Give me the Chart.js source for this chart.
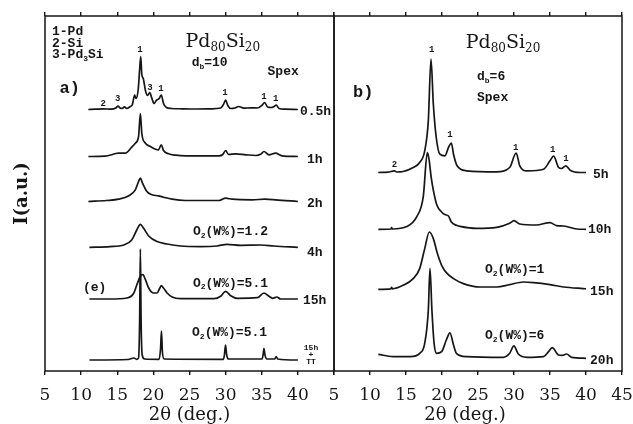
<!DOCTYPE html>
<html>
<head>
<meta charset="utf-8">
<script src="https://cdn.jsdelivr.net/npm/chart.js@4.4.0/dist/chart.umd.min.js"></script>
<style>
  html, body { margin: 0; padding: 0; background: #fff; }
  #wrap { position: relative; width: 633px; height: 424px; overflow: hidden; }
  canvas { position: absolute; top: 0; }
  #chartA { left: 0; }
  #chartB { left: 300px; }
</style>
</head>
<body>
<div id="wrap">
  <canvas id="chartA" width="340" height="424"></canvas>
  <canvas id="chartB" width="334" height="424"></canvas>
</div>
<script>
// 2theta (deg.) / intensity above the curve's own baseline
// panel a) Pd80Si20, db=10
const a05h = [[11.0,0],[12.0,0.3],[13.1,0.7],[14.2,0.3],[14.8,1.5],[15.1,3.3],[15.4,1.5],[15.7,1],[16.0,2.7],[16.3,1],[16.8,3],[17.1,5],[17.4,14.5],[17.6,11],[17.9,20],[18.1,40],[18.25,53],[18.4,35],[18.6,31],[18.9,19],[19.2,14],[19.5,17],[19.8,11],[20.1,6],[20.4,9],[20.8,11],[21.1,14.5],[21.4,6],[21.8,2],[22.5,1],[24.0,0.7],[26.0,0.5],[28.0,0.7],[29.3,1.5],[29.7,5],[30.0,9.3],[30.3,4],[30.7,1],[31.3,1.5],[31.8,3],[32.5,1.3],[33.5,1.7],[34.4,1.5],[35.0,4],[35.4,7],[35.8,2.5],[36.3,2],[36.7,3],[37.0,4.3],[37.4,1],[38.2,0.3],[40.0,0]];
const a1h = [[11.0,0],[13.3,0.3],[15.2,3.3],[16.1,3.3],[17.0,9.3],[17.5,13.3],[17.95,20],[18.2,43],[18.4,23],[18.9,13.3],[19.6,10],[20.3,7.3],[20.7,6.7],[21.1,11.7],[21.4,6],[22.1,2.7],[23.1,1.3],[24.5,0.7],[29.1,0.7],[29.6,2],[30.0,6],[30.4,2],[31.4,2.7],[32.8,1.7],[34.2,1],[34.9,2.5],[35.3,5],[36.0,1.7],[36.9,3.3],[37.8,0.7],[40.0,0]];
const a2h = [[11.0,0],[13.5,1],[15.2,2.3],[16.6,5.7],[17.5,11.7],[17.95,20],[18.2,23.3],[18.5,18.3],[19.1,10],[19.8,6.7],[20.7,5.7],[21.4,4.3],[22.6,2.3],[24.4,1],[29.1,1],[30.0,3.3],[30.9,2.3],[33.7,1.7],[35.4,2.3],[36.9,1.7],[40.0,0]];
const a4h = [[11.15,0],[14.0,0.7],[15.9,2.3],[17.0,7.3],[17.7,17.3],[18.2,23],[18.65,19],[19.35,11.3],[20.5,5.7],[21.9,3.3],[23.75,1.3],[26.5,0.7],[28.8,1.3],[30.2,3],[32.1,2],[34.9,2.3],[36.7,1.3],[40.0,0]];
const a15h = [[11.15,0],[14.0,0],[16.35,1],[17.3,6],[17.7,14],[18.2,22.7],[18.55,24.3],[18.9,19.3],[19.35,11],[20.0,6],[20.5,6],[20.9,11],[21.1,13.3],[21.4,11],[21.9,6],[22.6,2],[23.75,0.3],[28.4,0.3],[29.3,2.7],[30.0,7.7],[30.7,3.3],[31.6,0.7],[34.4,1.3],[35.3,6],[36.0,2.7],[36.5,0.7],[37.1,2],[37.6,0],[40.0,0]];
const a15hTT = [[11.15,0],[16.5,0.5],[17.3,2],[17.7,0.7],[17.95,2],[18.1,40],[18.2,111],[18.3,40],[18.45,5],[18.8,1],[20.8,0.7],[21.0,12],[21.12,29],[21.25,8],[21.5,1],[29.7,0.7],[29.85,6],[29.98,15],[30.15,5],[30.4,1],[35.05,1],[35.2,6],[35.3,11.5],[35.45,5],[35.7,1],[36.8,1],[37.0,3.5],[37.2,1],[40.0,0]];
const seriesA = [a05h, a1h, a2h, a4h, a15h, a15hTT];
const offsetsA = [261.5, 214.5, 169.5, 123.7, 72, 11];

// panel b) Pd80Si20, db=6
const b5h = [[11.15,0],[12.5,0.3],[13.4,1.7],[13.7,0.5],[14.6,1],[16.0,5],[16.9,10],[17.6,21.7],[18.1,51.7],[18.47,113.5],[18.8,68],[19.2,35],[19.7,18.3],[20.4,16.7],[20.9,25],[21.3,29.5],[21.6,18.3],[22.1,6.7],[23.4,1.7],[27.6,0.7],[29.4,5],[30.3,19.5],[30.8,6.7],[31.8,1.7],[34.1,3.3],[35.0,11.7],[35.5,16.3],[36.2,5],[36.6,4],[37.2,6.7],[37.8,2.3],[39.2,0],[40.0,0]];
const b10h = [[11.16,0],[12.9,0.3],[13.0,1.7],[13.1,0.3],[15.1,2.7],[16.5,12.7],[17.4,32.7],[17.96,76.7],[18.2,70],[18.5,52],[18.8,39],[19.3,24],[19.95,17.3],[20.4,14.7],[20.9,13.3],[21.3,7.3],[22.0,4],[22.5,3],[24.8,1],[27.6,2],[29.4,6],[30.0,8.7],[30.8,5.3],[33.1,4.3],[35.0,6.7],[35.9,3.7],[36.9,3.3],[38.7,0.3],[40.0,0]];
const b15h = [[11.15,0],[12.9,0.5],[13.0,2],[13.1,0.5],[14.6,4],[16.0,10.7],[16.9,20.7],[17.6,40.7],[18.24,57.3],[18.8,50.7],[19.3,37.3],[19.95,24],[20.6,16.7],[21.6,10.7],[22.96,5.7],[25.3,2.3],[27.6,2.3],[29.4,4.7],[31.3,7.3],[32.7,6.7],[35.0,4.7],[36.9,2.3],[39.6,0.7],[40.0,0.5]];
const b20h = [[11.16,4],[13.2,1.7],[15.6,1.7],[16.9,5],[17.6,15],[18.1,48],[18.33,90],[18.6,48],[18.9,15],[19.26,5],[19.95,6.7],[20.6,18.3],[21.1,25.5],[21.6,13.3],[22.0,5],[23.4,1.7],[28.5,1],[29.4,5],[29.98,12.5],[30.6,4.3],[31.8,1],[34.1,1.7],[34.8,6.7],[35.3,10.7],[36.2,3.3],[36.7,3],[37.3,4.3],[38.0,1],[40.0,0]];
const seriesB = [b5h, b10h, b15h, b20h];
const offsetsB = [198.5, 141.7, 81.7, 12.7];

const xTicks = [5, 10, 15, 20, 25, 30, 35, 40, 45];

// text on the panels: [text, 2theta, intensity, style, align]
const notesA = [
  ['1-Pd', 5.97, 339, 'leg'], ['2-Si', 5.97, 327.5, 'leg'], ['3-Pd_{3}Si', 5.97, 316, 'leg'],
  ['a)', 7.0, 282, 'panel'],
  ['Pd_{80}Si_{20}', 29.6, 329, 'head', 'center'],
  ['d_{b}=10', 25.3, 308, 'leg'], ['Spex', 35.8, 299, 'leg'],
  ['1', 18.15, 321, 'peak', 'center'], ['2', 13.07, 267.7, 'peak', 'center'], ['3', 15.06, 272.7, 'peak', 'center'],
  ['3', 19.53, 283.3, 'peak', 'center'], ['1', 21.06, 282.7, 'peak', 'center'], ['1', 29.91, 278.7, 'peak', 'center'],
  ['1', 35.31, 274.3, 'peak', 'center'], ['1', 36.93, 272.7, 'peak', 'center'],
  ['0.5h', 40.29, 259.3, 'curve'], ['1h', 41.26, 211, 'curve'], ['2h', 41.26, 167.7, 'curve'],
  ['4h', 41.26, 118.3, 'curve'], ['15h', 40.71, 70.3, 'curve'],
  ['15h', 41.82, 23, 'tiny', 'center'], ['+', 41.82, 16, 'tiny', 'center'], ['TT', 41.82, 9, 'tiny', 'center'],
  ['O_{2}(W%)=1.2', 25.48, 139.3, 'gas'], ['(e)', 10.26, 83, 'gas'],
  ['O_{2}(W%)=5.1', 25.48, 87.7, 'gas'], ['O_{2}(W%)=5.1', 25.35, 38.3, 'gas'],
  ['2θ (deg.)', 25, -44, 'axis', 'center']
];
const notesB = [
  ['Pd_{80}Si_{20}', 28.47, 328, 'head', 'center'],
  ['d_{b}=6', 24.86, 294, 'leg'], ['Spex', 24.86, 273, 'leg'], ['b)', 7.64, 278, 'panel'],
  ['1', 18.57, 321, 'peak', 'center'], ['1', 21.11, 236, 'peak', 'center'], ['1', 30.24, 223.7, 'peak', 'center'],
  ['1', 35.37, 221.7, 'peak', 'center'], ['1', 37.22, 212.7, 'peak', 'center'], ['2', 13.38, 206.7, 'peak', 'center'],
  ['5h', 40.97, 196.7, 'curve'], ['10h', 40.28, 141, 'curve'], ['15h', 40.56, 79.3, 'curve'], ['20h', 40.56, 10, 'curve'],
  ['O_{2}(W%)=1', 25.97, 101, 'gas'], ['O_{2}(W%)=6', 25.97, 35, 'gas'],
  ['2θ (deg.)', 23.2, -44, 'axis', 'center']
];

const ink = '#161616';
const mono = '"Liberation Mono", "Courier New", monospace';
const serif = '"DejaVu Serif", serif';
const fonts = {
  leg: { size: 13, family: mono, weight: 'bold' },
  head: { size: 19, family: serif, weight: 'normal' },
  peak: { size: 9, family: mono, weight: 'bold' },
  curve: { size: 13, family: mono, weight: 'bold' },
  tiny: { size: 8, family: mono, weight: 'bold' },
  gas: { size: 13, family: mono, weight: 'bold' },
  panel: { size: 17, family: mono, weight: 'bold' },
  axis: { size: 18, family: serif, weight: 'normal' }
};

// text with _{...} subscripts
function drawNote(ctx, text, x, y, f, align) {
  const parts = text.split(/_\{([^}]*)\}/);
  const main = f.weight + ' ' + f.size + 'px ' + f.family;
  const sub = f.weight + ' ' + Math.round(f.size * 0.62) + 'px ' + f.family;
  let width = 0;
  parts.forEach((p, i) => { ctx.font = i % 2 ? sub : main; width += ctx.measureText(p).width; });
  let cx = align === 'center' ? x - width / 2 : x;
  ctx.textAlign = 'left';
  ctx.textBaseline = 'middle';
  parts.forEach((p, i) => {
    ctx.font = i % 2 ? sub : main;
    ctx.fillText(p, cx, i % 2 ? y + f.size * 0.32 : y);
    cx += ctx.measureText(p).width;
  });
}

const framePlugin = {
  id: 'frameNotes',
  afterDraw(chart, args, opts) {
    const { ctx, chartArea: a, scales } = chart;
    ctx.save();
    ctx.strokeStyle = ink;
    ctx.lineWidth = 1.5;
    ctx.strokeRect(a.left, a.top, a.right - a.left, a.bottom - a.top);
    ctx.fillStyle = ink;
    opts.notes.forEach(n => {
      drawNote(ctx, n[0], scales.x.getPixelForValue(n[1]), scales.y.getPixelForValue(n[2]), fonts[n[3]], n[4] || 'left');
    });
    ctx.restore();
  }
};

function makeChart(id, series, offsets, notes, isLeft) {
  const datasets = series.map((s, i) => ({
    data: s.map(([t, v]) => ({ x: t, y: offsets[i] + v })),
    borderColor: ink,
    borderWidth: 1.7,
    pointRadius: 0,
    fill: false,
    cubicInterpolationMode: 'monotone'
  }));
  return new Chart(document.getElementById(id), {
    type: 'line',
    data: { datasets },
    plugins: [framePlugin],
    options: {
      responsive: false,
      animation: false,
      devicePixelRatio: 1,
      events: [],
      layout: { padding: { left: isLeft ? 0 : 34, right: isLeft ? 6 : 12, top: 12, bottom: 0 } },
      plugins: {
        legend: { display: false },
        tooltip: { enabled: false },
        frameNotes: { notes }
      },
      scales: {
        x: {
          type: 'linear', position: 'bottom', min: 5, max: 45,
          afterBuildTicks: s => { s.ticks = xTicks.map(v => ({ value: v })); },
          ticks: {
            autoSkip: false, maxRotation: 0, padding: 10, color: ink,
            font: { family: 'DejaVu Serif', size: 17 },
            callback: v => (isLeft && v === 45) ? '' : String(v)
          },
          grid: { drawOnChartArea: false, drawTicks: true, tickLength: 4, color: ink, lineWidth: 1.4 },
          border: { display: false },
          afterFit: s => { s.height = 53; s.paddingLeft = 0; s.paddingRight = 0; }
        },
        x2: {
          type: 'linear', position: 'top', min: 5, max: 45,
          afterBuildTicks: s => { s.ticks = xTicks.map(v => ({ value: v })); },
          ticks: { display: false },
          grid: { drawOnChartArea: false, drawTicks: true, tickLength: 4, color: ink, lineWidth: 1.4 },
          border: { display: false },
          afterFit: s => { s.height = 4; s.paddingLeft = 0; s.paddingRight = 0; }
        },
        y: {
          type: 'linear', min: 0, max: 355,
          display: isLeft,
          ticks: { display: false },
          grid: { display: false },
          border: { display: false },
          title: {
            display: true, text: 'I(a.u.)', color: ink,
            font: { family: 'DejaVu Serif', size: 18, weight: 'bold' },
            padding: { top: 12, bottom: 0 }
          },
          afterFit: s => { s.width = isLeft ? 45 : 0; }
        }
      }
    }
  });
}

makeChart('chartA', seriesA, offsetsA, notesA, true);
makeChart('chartB', seriesB, offsetsB, notesB, false);
</script>
</body>
</html>
